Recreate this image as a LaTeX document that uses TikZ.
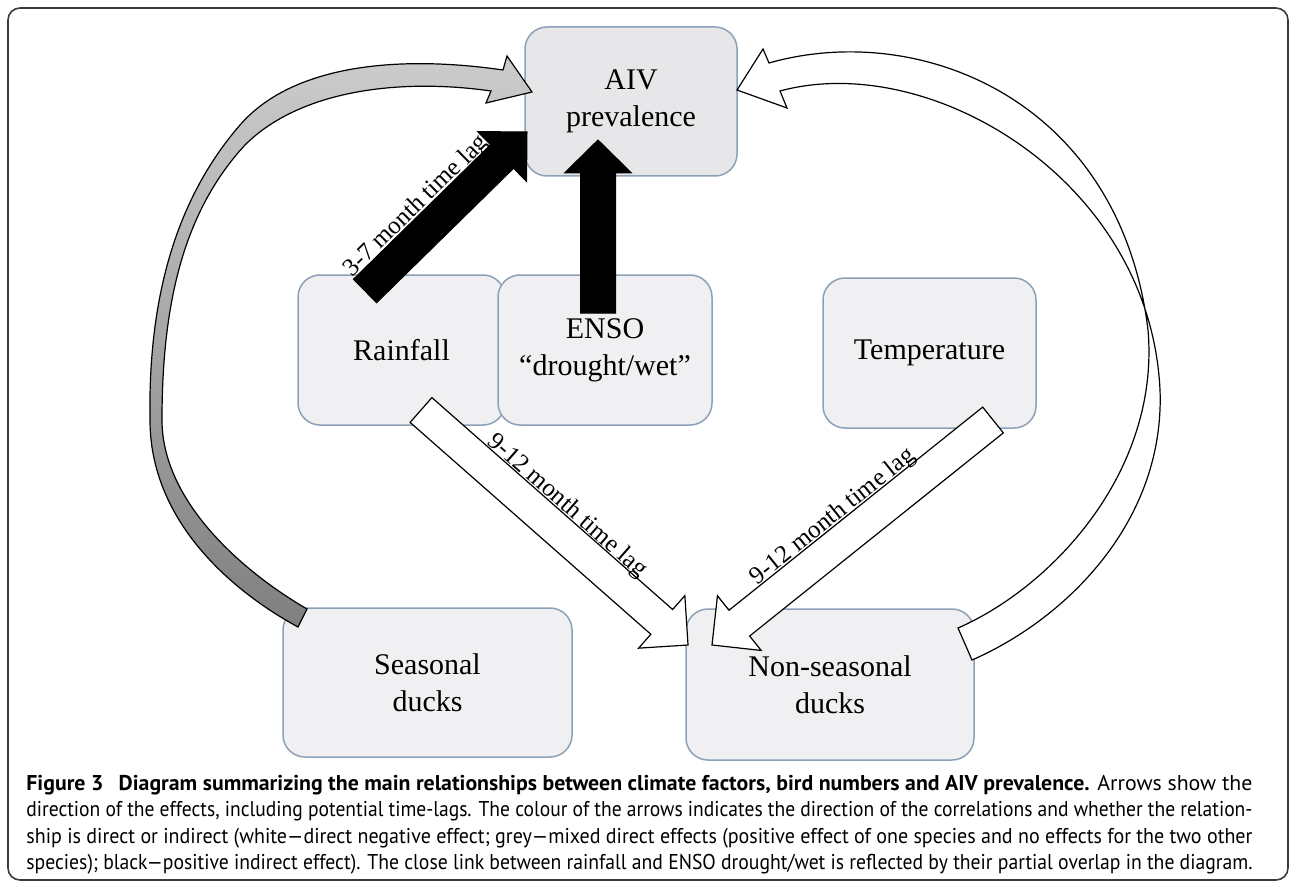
\documentclass[tikz,border=0pt]{standalone}
\usepackage{fontspec}
\setmainfont{Liberation Serif}
\newfontfamily\capfont{PT Sans}
\usepackage{graphicx}
\usetikzlibrary{calc}
\definecolor{boxfill}{RGB}{240,240,242}
\definecolor{aivfill}{RGB}{231,231,233}
\definecolor{boxline}{RGB}{140,160,182}
\definecolor{framecol}{RGB}{60,60,60}
\newcommand\blockarrow[6]{%
  \coordinate (bh) at ($(#3)!#6!(#2)$);
  \draw[#1] ($(#2)!#4!90:(#3)$) -- ($(bh)!#4!90:(#3)$) -- ($(bh)!#5!90:(#3)$) -- (#3)
     -- ($(bh)!#5!-90:(#3)$) -- ($(bh)!#4!-90:(#3)$) -- ($(#2)!#4!-90:(#3)$) -- cycle;
}
\tikzset{
  box/.style={draw=boxline, line width=0.75pt, fill=boxfill, rounded corners=11pt,
    align=center, inner sep=0pt, font=\fontsize{15}{18.5}\selectfont},
  barrow/.style={fill=black, draw=black, line width=0.5pt, line join=miter},
  warrow/.style={fill=white, draw=black, line width=0.6pt, line join=miter},
  garrow/.style={top color=gray!40, bottom color=gray!100, draw=black, line width=0.6pt, line join=miter},
  lab/.style={font=\fontsize{12.5}{15}\selectfont, inner sep=0pt},
  capline/.style={anchor=base west, inner sep=0pt},
}
\begin{document}
\begin{tikzpicture}[x=0.5pt,y=-0.5pt]
\useasboundingbox (0,0) rectangle (1293,882);
\fill[white] (0,0) rectangle (1293,882);
\draw[framecol, line width=0.8pt, rounded corners=6pt] (8,8) rectangle (1288,880);

% boxes
\node[box, fill=aivfill, minimum width=106pt, minimum height=74.5pt] (aiv) at (631,101.5) {AIV\\prevalence};
\node[box, minimum width=103.5pt, minimum height=75pt] (rain) at (401.5,350) {Rainfall};
\node[box, minimum width=107pt, minimum height=75pt] (enso) at (605,350) {ENSO\\“drought/wet”};
\node[box, minimum width=106.5pt, minimum height=75pt] (temp) at (929.5,353) {Temperature};
\node[box, minimum width=144.5pt, minimum height=74.5pt] (seas) at (427.5,682.5) {Seasonal\\ducks};
\node[box, minimum width=144pt, minimum height=75.5pt] (nons) at (830,684.5) {Non-seasonal\\ducks};

% grey curved arrow: seasonal ducks -> AIV
\coordinate (gtail) at (302,618);
\coordinate (gtip) at (532,92);
\shadedraw[garrow] (298,627) .. controls (230,590) and (150,520) .. (150,420)
   .. controls (148,300) and (175,200) .. (240,125)
   .. controls (293,64) and (400,55) .. (503,70) -- (507,56) -- (gtip) -- (486,103) -- (491,91)
   .. controls (400,78) and (300,90) .. (245,145)
   .. controls (185,210) and (162,300) .. (162,420)
   .. controls (162,500) and (240,570) .. (307,609) -- cycle;

% white curved arrow: non-seasonal ducks -> AIV
\coordinate (wtip) at (737,90);
\coordinate (wtail) at (965,644);
\draw[warrow] (769,63) .. controls (920,20) and (1120,100) .. (1148,330)
   .. controls (1160,470) and (1054,586) .. (958,628) -- (972,660)
   .. controls (1068,618) and (1165,520) .. (1160,390)
   .. controls (1150,180) and (930,50) .. (780,91) -- (787,108) -- (wtip) -- (763,49) -- cycle;

% black arrows
\coordinate (rbT) at (365,291);
\coordinate (rbH) at (527,132);
\blockarrow{barrow}{rbT}{rbH}{8.25pt}{17.5pt}{17.5pt}
\path ($(rbT)!8.25pt!90:(rbH)$) -- ($(bh)!8.25pt!90:(rbH)$)
   node[lab, pos=0.5, sloped, above=-2pt] (lab37) {3-7 month time lag};

\coordinate (ebT) at (598,313);
\coordinate (ebH) at (598,140);
\blockarrow{barrow}{ebT}{ebH}{8.75pt}{16.75pt}{16.5pt}

% white straight arrows
\coordinate (rwT) at (421,410);
\coordinate (rwH) at (688,645);
\blockarrow{warrow}{rwT}{rwH}{8.25pt}{17.5pt}{17.5pt}
\path ($(rwT)!8.25pt!90:(rwH)$) -- ($(bh)!8.25pt!90:(rwH)$)
   node[lab, pos=0.54, sloped, above=-2pt] (labr) {9-12 month time lag};

\coordinate (twT) at (993,420);
\coordinate (twH) at (712,645);
\blockarrow{warrow}{twT}{twH}{8.25pt}{17.5pt}{17.5pt}
\path ($(bh)!8.25pt!-90:(twH)$) -- ($(twT)!8.25pt!-90:(twH)$)
   node[lab, pos=0.43, sloped, above=-2pt] (labt) {9-12 month time lag};

% caption
\node[capline] (cap1) at (26,790) {\resizebox{613pt}{\height}{\capfont\fontsize{10.7}{13}\selectfont\textbf{Figure 3\hspace{0.7em}Diagram summarizing the main relationships between climate factors, bird numbers and AIV prevalence.} Arrows show the}};
\node[capline] (cap2) at (26,816.5) {\resizebox{613pt}{\height}{\capfont\fontsize{10.7}{13}\selectfont direction of the effects, including potential time-lags. The colour of the arrows indicates the direction of the correlations and whether the relation-}};
\node[capline] (cap3) at (26,843) {\resizebox{613pt}{\height}{\capfont\fontsize{10.7}{13}\selectfont ship is direct or indirect (white—direct negative effect; grey—mixed direct effects (positive effect of one species and no effects for the two other}};
\node[capline] (cap4) at (26,869) {\resizebox{613pt}{\height}{\capfont\fontsize{10.7}{13}\selectfont species); black—positive indirect effect). The close link between rainfall and ENSO drought/wet is reflected by their partial overlap in the diagram.}};
\end{tikzpicture}
\end{document}
